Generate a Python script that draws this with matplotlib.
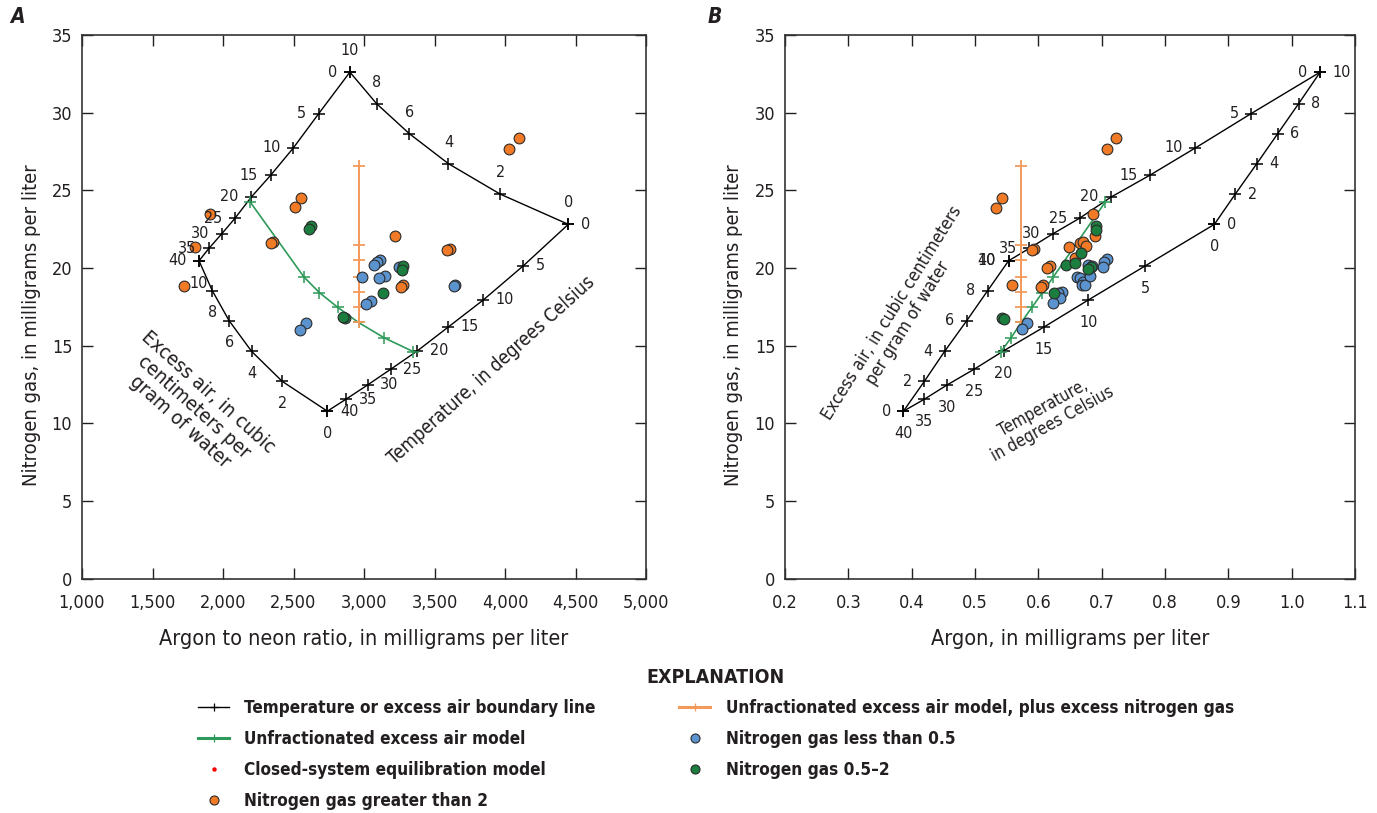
import matplotlib
matplotlib.use("Agg")
import matplotlib.pyplot as plt
from matplotlib.lines import Line2D
from matplotlib.ticker import FuncFormatter, MultipleLocator

plt.rcParams["font.family"] = ["DejaVu Sans"]
plt.rcParams["font.stretch"] = "condensed"
TEXT = "#231F20"
plt.rcParams["text.color"] = TEXT
plt.rcParams["axes.labelcolor"] = TEXT
plt.rcParams["xtick.color"] = TEXT
plt.rcParams["ytick.color"] = TEXT

# ---- recharge-temperature / excess-air grid --------------------------------
temps = ["0", "5", "10", "15", "20", "25", "30", "35", "40"]
excess_air = ["0", "2", "4", "6", "8", "10"]

# nitrogen gas (mg/L) along each boundary line
n2_ea0 = [22.81, 20.14, 17.94, 16.20, 14.66, 13.49, 12.47, 11.55, 10.78]
n2_ea10 = [32.61, 29.94, 27.73, 25.97, 24.57, 23.20, 22.20, 21.27, 20.46]
n2_t0 = [22.81, 24.76, 26.72, 28.65, 30.58, 32.61]
n2_t40 = [10.78, 12.70, 14.63, 16.61, 18.54, 20.46]

# argon-to-neon ratio along each boundary line
arne_ea0 = [4449, 4130, 3846, 3598, 3378, 3191, 3026, 2872, 2740]
arne_ea10 = [2900, 2679, 2499, 2338, 2201, 2085, 1991, 1901, 1830]
arne_t0 = [4449, 3965, 3598, 3321, 3089, 2900]
arne_t40 = [2740, 2420, 2203, 2043, 1924, 1830]

# argon (mg/L) along each boundary line
ar_ea0 = [0.878, 0.769, 0.679, 0.609, 0.545, 0.499, 0.456, 0.420, 0.387]
ar_ea10 = [1.045, 0.936, 0.848, 0.776, 0.715, 0.665, 0.623, 0.586, 0.553]
ar_t0 = [0.878, 0.911, 0.945, 0.978, 1.011, 1.045]
ar_t40 = [0.387, 0.420, 0.452, 0.487, 0.520, 0.553]

# unfractionated excess-air model at 20 degrees Celsius
model_n2 = [14.61, 15.51, 16.49, 17.47, 18.42, 19.42, 24.27]
model_arne = [3350, 3142, 2961, 2813, 2683, 2574, 2191]
model_ar = [0.541, 0.557, 0.573, 0.590, 0.6065, 0.6236, 0.706]

# same model plus excess nitrogen gas
xsn2_n2 = [16.50, 17.48, 18.47, 19.44, 20.49, 21.48, 26.55]
xsn2_arne = [2961, 2961, 2961, 2961, 2961, 2961, 2961]
xsn2_ar = [0.573, 0.573, 0.573, 0.573, 0.573, 0.573, 0.573]

# ---- samples -------------------------------------------------------------
# nitrogen gas greater than 2
hi_arne = [2551, 2511, 2357, 2340, 3220, 3610, 3587, 3279, 3260, 4101, 4030,
           1911, 1801, 1722]
hi_n2_a = [24.49, 23.90, 21.69, 21.59, 22.09, 21.24, 21.16, 18.91, 18.80,
           28.39, 27.66, 23.46, 21.37, 18.85]
hi_ar = [0.7224, 0.7092, 0.5423, 0.5329, 0.6871, 0.6897, 0.6491, 0.6660,
         0.6712, 0.6755, 0.6581, 0.6186, 0.6144, 0.6081, 0.6044, 0.5591,
         0.5934, 0.5897]
hi_n2_b = [28.39, 27.66, 24.49, 23.88, 23.46, 22.06, 21.37, 21.63, 21.69,
           21.42, 20.62, 20.13, 19.98, 18.91, 18.80, 18.91, 21.22, 21.16]

# nitrogen gas less than 0.5
lo_arne = [3113, 3090, 3071, 3149, 3109, 2984, 3047, 3014, 2587, 2546, 3645,
           3638, 3245]
lo_n2_a = [20.52, 20.37, 20.19, 19.50, 19.34, 19.40, 17.90, 17.68, 16.48,
           16.00, 18.91, 18.84, 20.06]
lo_ar = [0.7082, 0.7040, 0.7019, 0.6791, 0.6845, 0.6608, 0.6660, 0.6703,
         0.6687, 0.6740, 0.6808, 0.6371, 0.6318, 0.6344, 0.6229, 0.5818,
         0.5739]
lo_n2_b = [20.56, 20.41, 20.08, 20.19, 20.13, 19.44, 19.34, 19.12, 18.90,
           18.90, 19.48, 18.47, 18.37, 18.05, 17.73, 16.48, 16.05]

# nitrogen gas 0.5-2
mid_arne = [2622, 2612, 3280, 3266, 3133, 2865, 2853]
mid_n2_a = [22.70, 22.49, 20.11, 19.90, 18.41, 16.76, 16.82]
mid_ar = [0.6913, 0.6913, 0.6671, 0.6439, 0.6581, 0.6833, 0.6792, 0.6255,
          0.5433, 0.5450]
mid_n2_b = [22.70, 22.45, 20.95, 20.19, 20.34, 20.04, 19.96, 18.41, 16.76,
            16.72]

ORANGE = "#F07A26"
ORANGE_LINE = "#F39A5B"
BLUE = "#5B93CF"
GREEN = "#1B7D3E"
GREEN_LINE = "#2E9A59"
EDGE = "#2B2B2B"

W, H = 1377, 813
fig = plt.figure(figsize=(W / 100, H / 100), dpi=100)


def fx(px):
    return px / W


def fy(py):
    return 1 - py / H


ax_a = fig.add_axes([fx(82), fy(578.6), 564 / W, 543.6 / H])
ax_b = fig.add_axes([fx(785), fy(578.6), 570 / W, 543.6 / H])

LBL = 11.5
PLUS = dict(marker="+", ms=8.5, mew=1.1)


def boundary(ax, xs, ys):
    ax.plot(xs, ys, color="black", lw=1.0, zorder=3, **PLUS)


def tag(ax, xs, ys, texts, dx, dy, ha, weight="normal"):
    for x, y, t in zip(xs, ys, texts):
        ax.annotate(t, (x, y), xytext=(dx, dy), textcoords="offset points",
                    ha=ha, va="center", fontsize=LBL, weight=weight, zorder=6)


def samples(ax, xs_hi, ys_hi, xs_lo, ys_lo, xs_mid, ys_mid):
    kw = dict(s=60, edgecolors=EDGE, linewidths=0.8, zorder=5)
    ax.scatter(xs_hi, ys_hi, c=ORANGE, **kw)
    ax.scatter(xs_lo, ys_lo, c=BLUE, **kw)
    ax.scatter(xs_mid, ys_mid, c=GREEN, **kw)


def style(ax, label_x):
    ax.set_ylim(0, 35)
    ax.yaxis.set_major_locator(MultipleLocator(5))
    ax.tick_params(direction="in", length=8, width=1.0, top=True, right=True,
                   labelsize=13)
    ax.tick_params(axis="y", pad=7)
    ax.tick_params(axis="x", pad=11)
    for s in ax.spines.values():
        s.set_linewidth(1.2)
        s.set_color("#333333")
    ax.set_ylabel("Nitrogen gas, in milligrams per liter", fontsize=14.5)
    ax.yaxis.set_label_coords(label_x, 0.466)


# ---- panel A -------------------------------------------------------------
for xs, ys in [(arne_ea10, n2_ea10), (arne_ea0, n2_ea0),
               (arne_t0, n2_t0), (arne_t40, n2_t40)]:
    boundary(ax_a, xs, ys)
ax_a.plot(model_arne, model_n2, color=GREEN_LINE, lw=1.2, zorder=3, **PLUS)
ax_a.plot(xsn2_arne, xsn2_n2, color=ORANGE_LINE, lw=1.4, zorder=4,
          marker="+", ms=9, mew=1.3)
samples(ax_a, hi_arne, hi_n2_a, lo_arne, lo_n2_a, mid_arne, mid_n2_a)

tag(ax_a, arne_ea10, n2_ea10, temps, -9, 0, "right")
tag(ax_a, arne_ea0, n2_ea0, temps, 9, 0, "left")
tag(ax_a, arne_t0, n2_t0, excess_air, 0, 15.5, "center")
tag(ax_a, arne_t40, n2_t40, excess_air, 0, -16, "center")

style(ax_a, -0.073)
ax_a.set_xlim(1000, 5000)
ax_a.xaxis.set_major_locator(MultipleLocator(500))
ax_a.xaxis.set_major_formatter(FuncFormatter(lambda v, p: f"{v:,.0f}"))
ax_a.set_xlabel("Argon to neon ratio, in milligrams per liter", fontsize=15.5,
                labelpad=12)

fig.text(fx(194), fy(407), "Excess air, in cubic\ncentimeters per\ngram of water",
         rotation=-42, ha="center", va="center", multialignment="center",
         fontsize=14.5, linespacing=1.1, rotation_mode="anchor")
fig.text(fx(491), fy(370), "Temperature, in degrees Celsius", rotation=42,
         ha="center", va="center", fontsize=13.5, rotation_mode="anchor")

# ---- panel B -------------------------------------------------------------
for xs, ys in [(ar_ea10, n2_ea10), (ar_ea0, n2_ea0),
               (ar_t0, n2_t0), (ar_t40, n2_t40)]:
    boundary(ax_b, xs, ys)
ax_b.plot(model_ar, model_n2, color=GREEN_LINE, lw=1.2, zorder=3, **PLUS)
ax_b.plot(xsn2_ar, xsn2_n2, color=ORANGE_LINE, lw=1.4, zorder=4,
          marker="+", ms=9, mew=1.3)
samples(ax_b, hi_ar, hi_n2_b, lo_ar, lo_n2_b, mid_ar, mid_n2_b)

tag(ax_b, ar_ea10, n2_ea10, temps, -9, 0, "right")
tag(ax_b, ar_ea0, n2_ea0, temps, 0, -16, "center")
tag(ax_b, ar_t0, n2_t0, excess_air, 9, 0, "left")
tag(ax_b, ar_t40, n2_t40, excess_air, -9, 0, "right")

style(ax_b, -0.074)
ax_b.set_xlim(0.2, 1.1)
ax_b.xaxis.set_major_locator(MultipleLocator(0.1))
ax_b.xaxis.set_major_formatter(FuncFormatter(lambda v, p: f"{v:.1f}"))
ax_b.set_xlabel("Argon, in milligrams per liter", fontsize=15.5, labelpad=12)

fig.text(fx(900), fy(318), "Excess air, in cubic centimeters\nper gram of water",
         rotation=58, ha="center", va="center", multialignment="center",
         fontsize=12.5, linespacing=1.1, rotation_mode="anchor")
fig.text(fx(1048), fy(416), "Temperature,\nin degrees Celsius", rotation=29,
         ha="center", va="center", multialignment="center", fontsize=12,
         linespacing=1.0, rotation_mode="anchor")

fig.text(fx(17), fy(17), "A", fontsize=15, weight="bold", style="italic",
         ha="center", va="center")
fig.text(fx(715), fy(17), "B", fontsize=15, weight="bold", style="italic",
         ha="center", va="center")

# ---- explanation ---------------------------------------------------------
handles = [
    Line2D([], [], color="black", lw=1.0, marker="+", ms=6, mew=0.9),
    Line2D([], [], color=GREEN_LINE, lw=2.2, marker="+", ms=6, mew=0.9),
    Line2D([], [], ls="none", marker="o", ms=2.2, color="red"),
    Line2D([], [], ls="none", marker="o", ms=6.5, mfc=ORANGE, mec=EDGE, mew=0.8),
    Line2D([], [], color=ORANGE_LINE, lw=2.2, marker="+", ms=6, mew=0.9),
    Line2D([], [], ls="none", marker="o", ms=6.5, mfc=BLUE, mec=EDGE, mew=0.8),
    Line2D([], [], ls="none", marker="o", ms=6.5, mfc=GREEN, mec=EDGE, mew=0.8),
]
labels = [
    "Temperature or excess air boundary line",
    "Unfractionated excess air model",
    "Closed-system equilibration model",
    "Nitrogen gas greater than 2",
    "Unfractionated excess air model, plus excess nitrogen gas",
    "Nitrogen gas less than 0.5",
    "Nitrogen gas 0.5\u20132",
]
leg = fig.legend(handles, labels, ncol=2, loc="upper center",
                 bbox_to_anchor=(fx(716), fy(659)), frameon=False,
                 title="EXPLANATION",
                 title_fontproperties={"weight": "bold", "size": 14,
                                       "stretch": "condensed"},
                 prop={"weight": "bold", "size": 12.3, "stretch": "condensed"},
                 handlelength=1.8, handletextpad=0.9, columnspacing=4.9,
                 labelspacing=0.75, borderpad=0)

fig.savefig("out.png", dpi=100)
